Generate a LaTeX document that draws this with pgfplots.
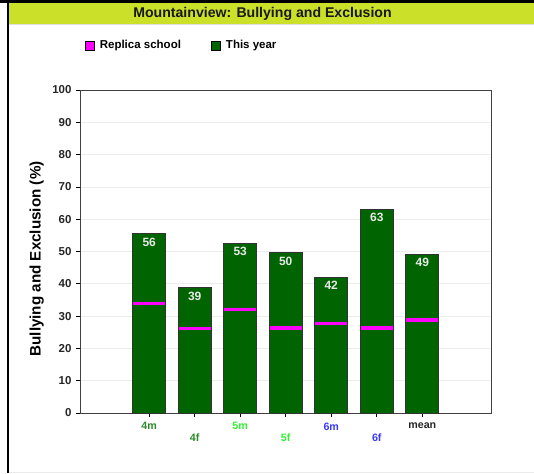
\documentclass[border=0pt]{standalone}
\usepackage{pgfplots}
\pgfplotsset{compat=1.18}
\usepackage{fontspec}
\setmainfont{Liberation Sans}
\definecolor{barg}{HTML}{006400}
\definecolor{titlebar}{HTML}{CBE028}
\definecolor{ga}{HTML}{2A8A2A}
\definecolor{gb}{HTML}{33F033}
\definecolor{bb}{HTML}{3838FF}
\definecolor{mg}{HTML}{FF00FF}
\definecolor{lab}{HTML}{E8E8E8}
\begin{document}
\begin{tikzpicture}
\useasboundingbox (-80pt,-60pt) rectangle (454pt,413pt);
\begin{axis}[
  scale only axis, width=411pt, height=323pt,
  xmin=-1.52, xmax=7.51, ymin=0, ymax=100,
  ytick={0,10,...,100},
  xtick={0,1,2,3,4,5,6},
  xticklabels={
    {\textcolor{ga}{4m}},
    {\raisebox{-11.7pt}[\height]{\textcolor{ga}{4f}}},
    {\textcolor{gb}{5m}},
    {\raisebox{-11.7pt}[\height]{\textcolor{gb}{5f}}},
    {\textcolor{bb}{6m}},
    {\raisebox{-11.7pt}[\height]{\textcolor{bb}{6f}}},
    {\textcolor{black!85}{mean}}},
  xtick pos=bottom, ytick pos=left,
  tick align=outside, major tick length=4pt,
  tick style={black, line width=0.6pt},
  axis line style={black!75, line width=0.9pt},
  ymajorgrids, grid style={black!7, line width=0.6pt},
  /pgf/number format/assume math mode=true,
  yticklabel style={font=\bfseries\fontsize{11.5}{12}\selectfont, text=black!85, xshift=-1pt},
  xticklabel style={font=\bfseries\fontsize{10.7}{11}\selectfont, yshift=-2pt},
  every axis y label/.style={at={(rel axis cs:-0.105,0.477)}, rotate=90, anchor=center,
    font=\bfseries\fontsize{15.2}{16}\selectfont},
  ylabel={Bullying and Exclusion (\%)},
  legend columns=2,
  legend style={at={(rel axis cs:0.011,1.138)}, anchor=west, draw=none, fill=none,
    inner sep=0pt, font=\bfseries\fontsize{11.5}{12}\selectfont,
    /tikz/every even column/.append style={column sep=27.4pt},
    nodes={inner sep=2.5pt}},
  legend cell align=left,
]
\addlegendimage{legend image code/.code={\draw[fill=mg,draw=black,line width=0.6pt] (0pt,-4.5pt) rectangle (9.3pt,4.5pt); \path[draw=none,fill=none] (0pt,0pt) rectangle (12.3pt,0pt);}}
\addlegendentry{Replica school}
\addlegendimage{legend image code/.code={\draw[fill=barg,draw=black,line width=0.6pt] (0pt,-4.5pt) rectangle (9.3pt,4.5pt); \path[draw=none,fill=none] (0pt,0pt) rectangle (12.3pt,0pt);}}
\addlegendentry{This year}
\addplot[ybar, bar width=33pt, bar shift=0pt, fill=barg, draw=black!80, line width=0.8pt,
  nodes near coords, point meta=explicit symbolic,
  every node near coord/.append style={anchor=north, yshift=-0.5pt, text=lab,
    font=\bfseries\fontsize{12}{12}\selectfont}, forget plot]
  table[x=x, y=y, meta=lab] {
x y lab
0 55.5 56
1 38.8 39
2 52.6 53
3 49.6 50
4 42.1 42
5 63.1 63
6 49.2 49
};
\addplot[only marks, mark=-, mark size=16.2pt, mark options={mg, line width=3.2pt}, forget plot]
  table {
0 34.0
1 26.1
2 32.1
3 26.3
4 27.6
5 26.3
6 28.8
};
\end{axis}
% page frame and title bar (pixel coordinates mapped: x-80, 413-y)
\fill[black] (-80pt,413pt) rectangle (454pt,409.5pt);
\fill[titlebar] (-71pt,409.5pt) rectangle (454pt,389pt);
\draw[black!12, line width=0.8pt] (-71pt,388.5pt) -- (454pt,388.5pt);
\draw[black, line width=1.3pt] (-72pt,413pt) -- (-72pt,-60pt);
\draw[black!8, line width=0.8pt] (-71pt,-59pt) -- (454pt,-59pt);
\node[font=\bfseries\fontsize{14.1}{15}\selectfont, text=black!90] at (182.5pt,398.7pt) {Mountainview: Bullying and Exclusion};
\end{tikzpicture}
\end{document}
